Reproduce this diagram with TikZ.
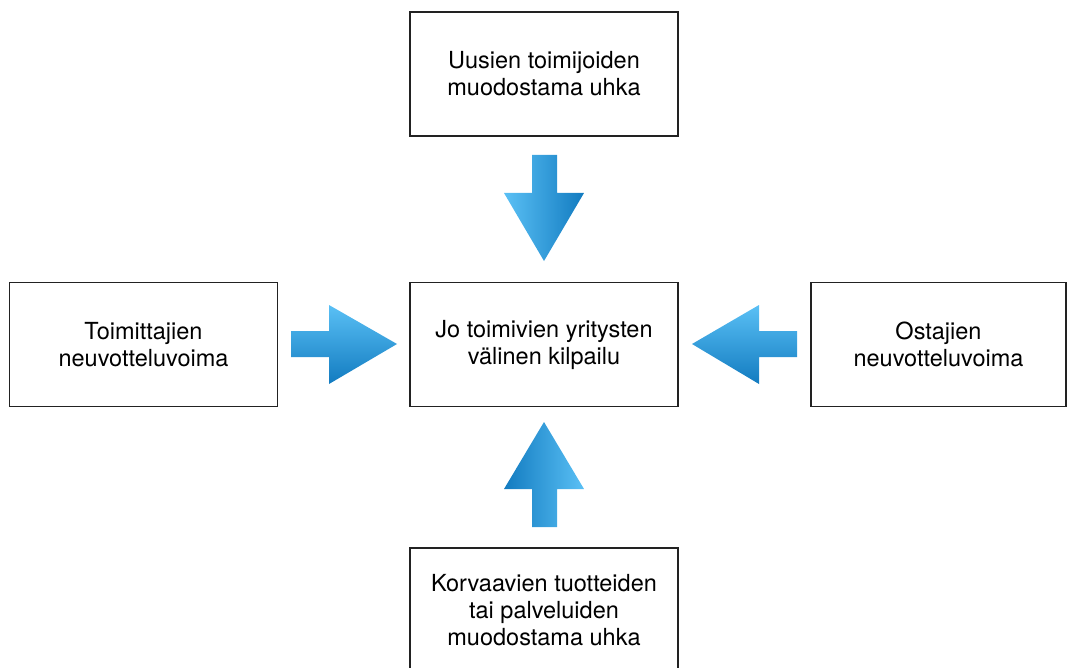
\documentclass[tikz,border=0pt]{standalone}
\usepackage{fontspec}
\setmainfont{TeX Gyre Heros}
\definecolor{arrlight}{HTML}{5AC0F5}
\definecolor{arrdark}{HTML}{127BC0}
\definecolor{boxline}{HTML}{222222}
\tikzset{
  forcebox/.style={draw=boxline, line width=1.3pt, fill=white, minimum width=268pt, minimum height=124pt,
    align=center, inner sep=0pt, font=\fontsize{23.5}{27}\selectfont},
  vshade/.style={left color=arrlight, right color=arrdark},
  vshaderev/.style={left color=arrdark, right color=arrlight},
  hshade/.style={top color=arrlight, bottom color=arrdark}
}
\begin{document}
\begin{tikzpicture}[x=1pt,y=-1pt]
\useasboundingbox (0,0) rectangle (1067,668);
\node[forcebox] (top) at (544,74) {Uusien toimijoiden\\muodostama uhka};
\node[forcebox] (mid) at (544,344.5) {Jo toimivien yritysten\\välinen kilpailu};
\node[forcebox] (left) at (143.5,344.5) {Toimittajien\\neuvotteluvoima};
\node[forcebox, minimum width=255pt] (right) at (938.5,344.5) {Ostajien\\neuvotteluvoima};
\node[forcebox] (bot) at (544,610) {Korvaavien tuotteiden\\tai palveluiden\\muodostama uhka};
% down arrow (top -> mid)
\shade[vshade] (532,155) -- (557,155) -- (557,193) -- (584,193) -- (544,261) -- (504,193) -- (532,193) -- cycle;
% up arrow (bot -> mid)
\shade[vshaderev] (532,527) -- (557,527) -- (557,489) -- (584,489) -- (544,422) -- (504,489) -- (532,489) -- cycle;
% right arrow (left -> mid)
\shade[hshade] (291,331) -- (329,331) -- (329,305) -- (397,344) -- (329,384) -- (329,357) -- (291,357) -- cycle;
% left arrow (right -> mid)
\shade[hshade] (797,331) -- (759,331) -- (759,305) -- (692,344) -- (759,384) -- (759,357) -- (797,357) -- cycle;
\end{tikzpicture}
\end{document}
